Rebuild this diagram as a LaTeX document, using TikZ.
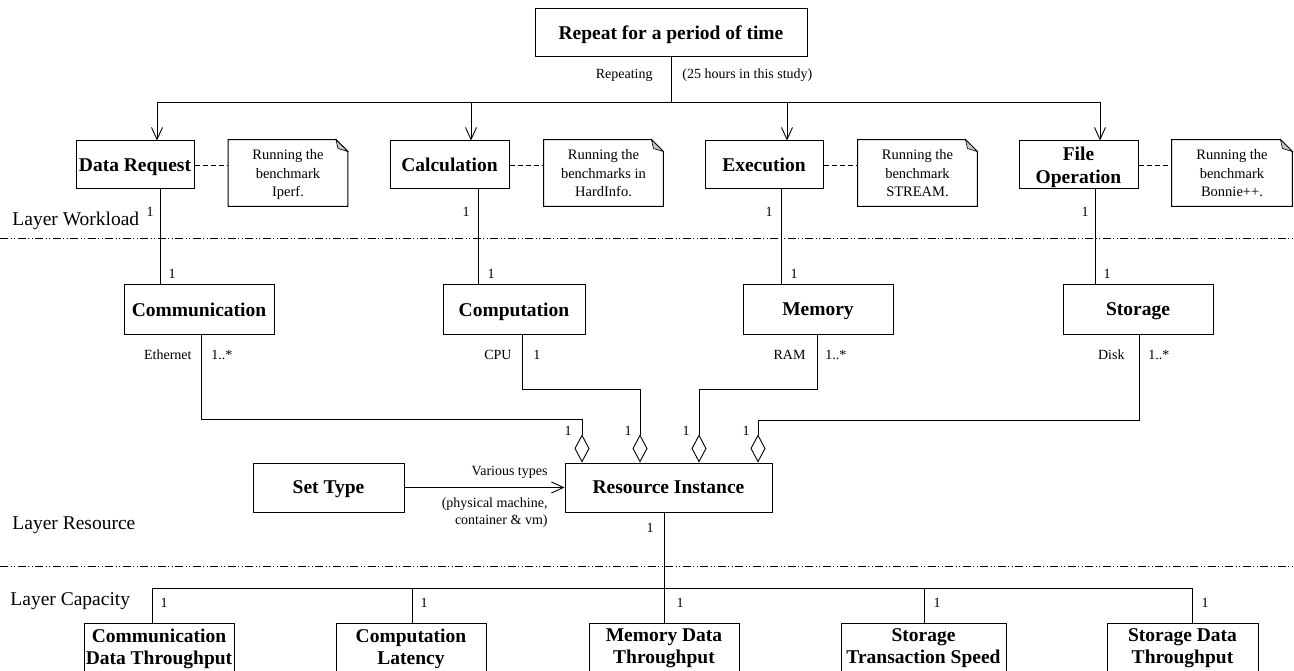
\documentclass[tikz,border=0pt]{standalone}
\usepackage{fontspec}
\setmainfont{Liberation Serif}
\usetikzlibrary{arrows.meta}
\begin{document}
\begin{tikzpicture}[x=1pt,y=-1pt,
  line width=0.9pt,
  box/.style={draw, line width=1pt, inner sep=0pt, align=center, text depth=0pt,
    font=\fontsize{19.5}{23}\selectfont\bfseries},
  capbox/.style={draw, line width=1pt, inner xsep=0pt, inner ysep=5.5pt, align=center,
    anchor=north, text depth=30pt, font=\fontsize{19.5}{21.5}\selectfont\bfseries},
  note/.style={inner sep=0pt, align=center, minimum width=119pt, minimum height=66pt,
    text depth=0pt, font=\fontsize{14.5}{18.5}\selectfont},
  lbl/.style={inner sep=0pt, font=\fontsize{14}{17}\selectfont},
  layer/.style={inner sep=0pt, anchor=base west, font=\fontsize{19.5}{22}\selectfont},
  arr/.style={-{Straight Barb[length=12pt,width=11pt]}},
  agg/.style={-{Diamond[open,length=28pt,width=15pt]}},
  sep/.style={line width=0.8pt, dash pattern=on 8pt off 2.5pt on 1pt off 2.5pt on 1pt off 2.5pt},
  link/.style={line width=0.9pt, dash pattern=on 5pt off 3pt}
]
\useasboundingbox (0,0) rectangle (1294,671);
\clip (0,0) rectangle (1294,671);

% ---------- loop control ----------
\node[box, minimum width=272pt, minimum height=48pt] (top) at (671,33) {Repeat for a period of time};
\node[lbl, anchor=base east] (rep) at (653,79) {Repeating};
\node[lbl, anchor=base west] (dur) at (682,79) {(25 hours in this study)};

% ---------- workload layer ----------
\node[box, minimum width=118pt, minimum height=48pt] (dr)   at (135,165)   {Data Request};
\node[box, minimum width=119pt, minimum height=48pt] (calc) at (449.5,165) {Calculation};
\node[box, minimum width=118pt, minimum height=48pt] (exec) at (764,165)   {Execution};
\node[box, minimum width=119pt, minimum height=48pt] (fop)  at (1078.5,165) {File\\Operation};

\node[note] (n1) at (288,173)    {Running the\\benchmark\\Iperf.};
\node[note] (n2) at (603.5,173)  {Running the\\benchmarks in\\HardInfo.};
\node[note] (n3) at (917.5,173)  {Running the\\benchmark\\STREAM.};
\node[note, minimum width=120pt] (n4) at (1232,173) {Running the\\benchmark\\Bonnie++.};

% note outlines with folded corner
\foreach \n in {n1,n2,n3,n4}{
  \draw[line width=1pt] (\n.north west) -- ([xshift=-12pt]\n.north east)
    -- ([yshift=-12pt]\n.north east) -- (\n.south east) -- (\n.south west) -- cycle;
  \filldraw[fill=gray!45, line width=0.6pt] ([xshift=-12pt]\n.north east)
    -- ([xshift=-10pt,yshift=-9pt]\n.north east) -- ([yshift=-12pt]\n.north east) -- cycle;
}

% note links
\draw[link] (dr.east)   -- (dr.east -| n1.west);
\draw[link] (calc.east) -- (calc.east -| n2.west);
\draw[link] (exec.east) -- (exec.east -| n3.west);
\draw[link] (fop.east)  -- (fop.east -| n4.west);

% repetition fan-out
\draw (top.south) -- ++(0,45) coordinate (split);
\draw[arr] (split) -| ([xshift=22pt]dr.north);
\draw[arr] (split) -| ([xshift=21.5pt]calc.north);
\draw[arr] (split) -| ([xshift=23pt]exec.north);
\draw[arr] (split) -| ([xshift=21.5pt]fop.north);

% separators and layer names
\draw[sep] (0,238) -- (1294,238);
\draw[sep] (0,566) -- (1294,566);
\node[layer] (lw) at (12,226) {Layer Workload};
\node[layer] (lr) at (12,529) {Layer Resource};
\node[layer] (lc) at (10,605) {Layer Capacity};

% ---------- resource layer ----------
\node[box, minimum width=150pt, minimum height=49pt] (comm)  at (199,309.5)  {Communication};
\node[box, minimum width=142pt, minimum height=49pt] (compu) at (514,309.5)  {Computation};
\node[box, minimum width=150pt, minimum height=49pt] (mem)   at (818,309.5)  {Memory};
\node[box, minimum width=150pt, minimum height=49pt] (stor)  at (1138,309.5) {Storage};

\draw ([xshift=25pt]dr.south)     -- ([xshift=25pt]dr.south |- comm.north);
\draw ([xshift=28.5pt]calc.south) -- ([xshift=28.5pt]calc.south |- compu.north);
\draw ([xshift=17pt]exec.south)   -- ([xshift=17pt]exec.south |- mem.north);
\draw ([xshift=16.5pt]fop.south)  -- ([xshift=16.5pt]fop.south |- stor.north);

\foreach \x/\nm in {150/m1,466/m2,769/m3,1085/m4}{
  \node[lbl, anchor=base] (\nm) at (\x,217) {1};
}
\foreach \x/\nm in {172/t1,491/t2,794/t3,1107/t4}{
  \node[lbl, anchor=base] (\nm) at (\x,279) {1};
}

\node[box, minimum width=151pt, minimum height=49pt] (st) at (328.5,487.5) {Set Type};
\node[box, minimum width=207pt, minimum height=49pt] (ri) at (668.5,487.5) {Resource Instance};
\draw[arr] (st.east) -- (ri.west);
\node[lbl, anchor=base east] (vt) at (548,475) {Various types};
\node[lbl, anchor=north east, align=right] (vk) at (548,497) {(physical machine,\\container \& vm)};

% aggregations into the resource instance
\draw[agg] ([xshift=2pt]comm.south)  -- ++(0,85) -| ([xshift=-86.5pt]ri.north);
\draw[agg] ([xshift=8pt]compu.south) -- ++(0,55) -| ([xshift=-28.5pt]ri.north);
\draw[agg] ([xshift=-1pt]mem.south)  -- ++(0,55) -| ([xshift=30.5pt]ri.north);
\draw[agg] ([xshift=1pt]stor.south)  -- ++(0,86) -| ([xshift=89.5pt]ri.north);

\node[lbl, anchor=base east] (eth)  at (192,359)  {Ethernet};
\node[lbl, anchor=base west] (ethm) at (211,359)  {1..*};
\node[lbl, anchor=base east] (cpu)  at (512,359)  {CPU};
\node[lbl, anchor=base west] (cpum) at (533,359)  {1};
\node[lbl, anchor=base east] (ram)  at (806,359)  {RAM};
\node[lbl, anchor=base west] (ramm) at (825,359)  {1..*};
\node[lbl, anchor=base east] (dsk)  at (1125,359) {Disk};
\node[lbl, anchor=base west] (dskm) at (1148,359) {1..*};
\foreach \x/\nm in {568/a1,628/a2,686/a3,746/a4}{
  \node[lbl, anchor=base] (\nm) at (\x,435) {1};
}

% ---------- capacity layer ----------
\node[capbox, minimum width=150pt] (cdt)  at (159,623)    {Communication\\Data Throughput};
\node[capbox, minimum width=150pt] (cl)   at (411,623)    {Computation\\Latency};
\node[capbox, minimum width=150pt] (mdt)  at (664,623)    {Memory Data\\Throughput};
\node[capbox, minimum width=165pt] (stsp) at (923.5,623)  {Storage\\Transaction Speed};
\node[capbox, minimum width=151pt] (sdt)  at (1182.5,623) {Storage Data\\Throughput};

\draw (ri.south -| mdt.north) -- (mdt.north);
\draw ([xshift=-7pt]cdt.north) -- ++(0,-35) -| ([xshift=9.5pt]sdt.north);
\draw ([xshift=1pt]cl.north) -- ++(0,-35);
\draw ([xshift=0.5pt]stsp.north) -- ++(0,-35);

\node[lbl, anchor=base] (rim) at (650,532) {1};
\foreach \x/\nm in {164/c1,424/c2,680/c3,937/c4,1205/c5}{
  \node[lbl, anchor=base] (\nm) at (\x,607) {1};
}
\end{tikzpicture}
\end{document}
